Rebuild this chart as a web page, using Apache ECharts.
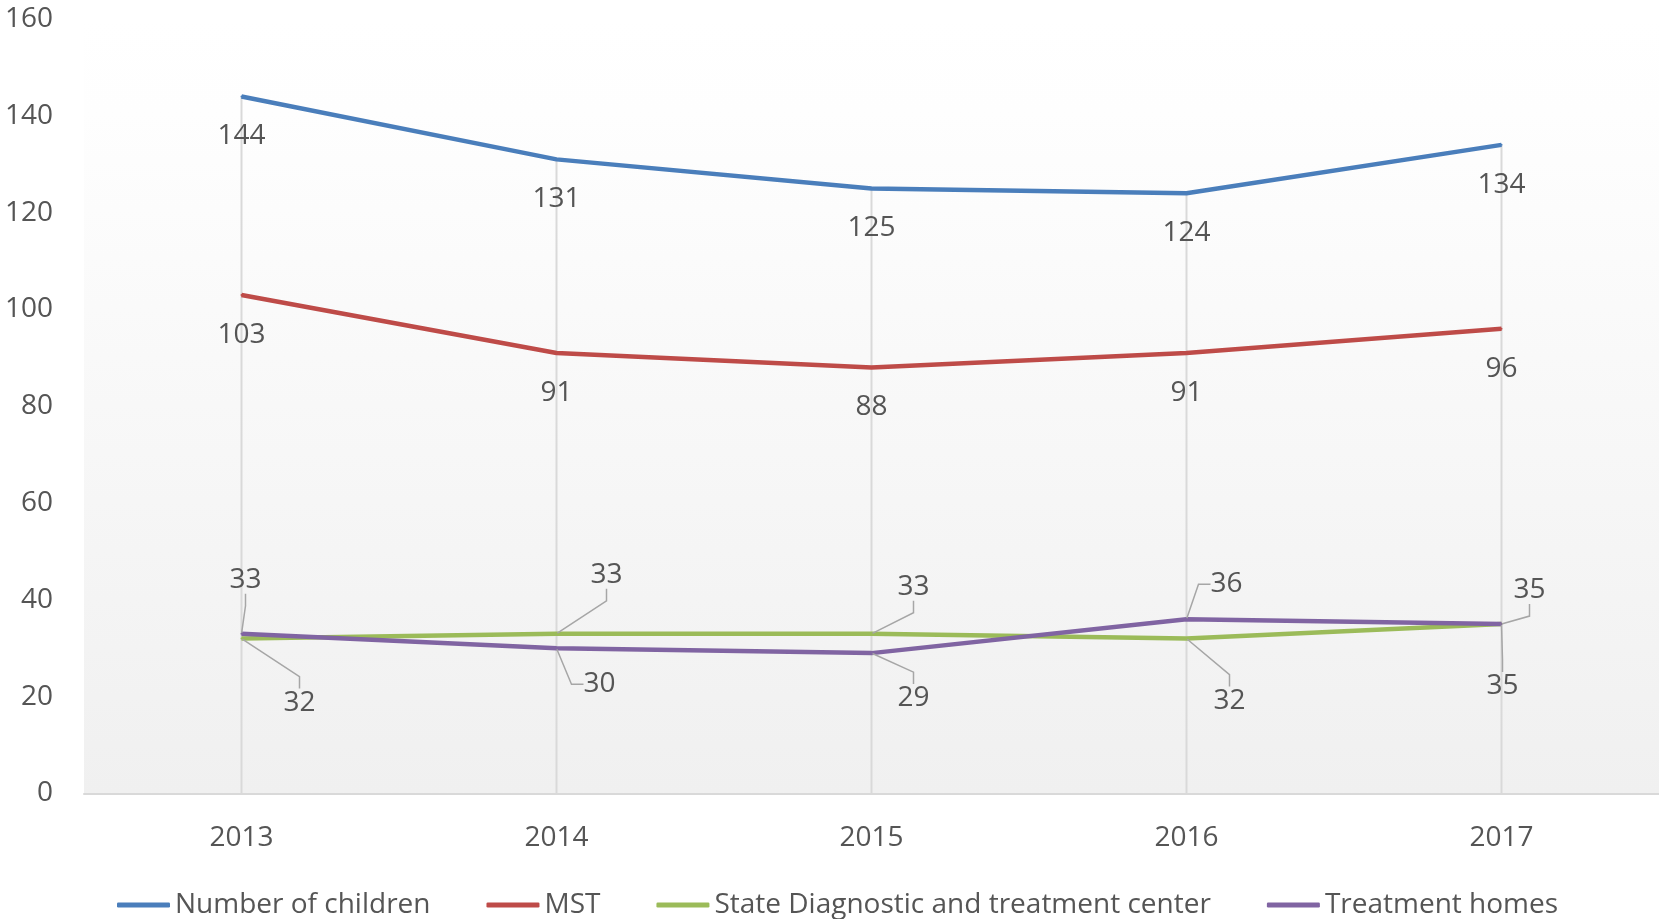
<!DOCTYPE html>
<html>
<head>
<meta charset="utf-8">
<script src="https://cdn.jsdelivr.net/npm/echarts@6/dist/echarts.min.js"></script>
<style>
  html, body { margin: 0; padding: 0; background: #fff; }
  #chart { width: 1659px; height: 919px; }
</style>
</head>
<body>
<div id="chart"></div>
<script>
const years = ["2013", "2014", "2015", "2016", "2017"];
const children = [144, 131, 125, 124, 134];
const mst = [103, 91, 88, 91, 96];
const stateCenter = [32, 33, 33, 32, 35];
const treatmentHomes = [33, 30, 29, 36, 35];
const yTicks = [0, 20, 40, 60, 80, 100, 120, 140, 160];

// drop lines go from the highest point in each year down to the axis
const dropTops = years.map((_, i) =>
  Math.max(children[i], mst[i], stateCenter[i], treatmentHomes[i])
);

// label offsets (px) for the two crowded lower series
const stateOffsets = [[58, 64], [50, -59], [42, -47], [43, 62], [1, 62]];
const homesOffsets = [[4, -54], [43, 36], [42, 45], [40, -35], [28, -34]];

const textColor = "#555555";
const font = "Open Sans";

const chart = echarts.init(document.getElementById("chart"));

const leaderSeries = (name, data, color, offsets) => ({
  name,
  type: "line",
  data,
  symbol: "circle",
  symbolSize: 2,
  lineStyle: { width: 4.5, color },
  itemStyle: { color },
  label: {
    show: true,
    position: "inside",
    fontSize: 28,
    fontFamily: font,
    color: textColor,
  },
  labelLayout: (p) => ({ dx: offsets[p.dataIndex][0], dy: offsets[p.dataIndex][1] }),
  labelLine: {
    show: true,
    length2: 12,
    lineStyle: { color: "#a6a6a6", width: 1.5 },
  },
  z: 3,
});

const plainSeries = (name, data, color) => ({
  name,
  type: "line",
  data,
  symbol: "circle",
  symbolSize: 2,
  lineStyle: { width: 4.5, color },
  itemStyle: { color },
  label: {
    show: true,
    position: "bottom",
    distance: 25,
    fontSize: 28,
    fontFamily: font,
    color: textColor,
  },
  z: 3,
});

const option = {
  animation: false,
  backgroundColor: "#ffffff",
  grid: {
    left: 84,
    right: -2,
    top: 19,
    bottom: 919 - 793.5,
    show: true,
    borderWidth: 0,
    backgroundColor: new echarts.graphic.LinearGradient(0, 0, 0, 1, [
      { offset: 0, color: "#ffffff" },
      { offset: 0.12, color: "#fefefe" },
      { offset: 1, color: "#f0f0f0" },
    ]),
  },
  legend: {
    data: ["Number of children", "MST", "State Diagnostic and treatment center", "Treatment homes"],
    left: 117,
    top: 891,
    padding: 0,
    icon: "roundRect",
    itemWidth: 53,
    itemHeight: 5,
    itemGap: 56,
    textStyle: { fontSize: 28, fontFamily: font, color: textColor },
  },
  xAxis: {
    type: "category",
    data: years,
    axisLine: { lineStyle: { color: "#d9d9d9", width: 2 } },
    axisTick: { show: false },
    axisLabel: { fontSize: 28, fontFamily: font, color: textColor, margin: 31 },
    splitLine: { show: false },
  },
  yAxis: {
    type: "value",
    min: yTicks[0],
    max: yTicks[yTicks.length - 1],
    interval: 20,
    axisLine: { show: false },
    axisTick: { show: false },
    axisLabel: { fontSize: 28, fontFamily: font, color: textColor, margin: 31 },
    splitLine: { show: false },
  },
  series: [
    {
      name: "drop",
      type: "bar",
      data: dropTops,
      barWidth: 2,
      itemStyle: { color: "#d9d9d9" },
      silent: true,
      z: 1,
    },
    plainSeries("Number of children", children, "#4a7ebb"),
    plainSeries("MST", mst, "#be4b48"),
    leaderSeries("State Diagnostic and treatment center", stateCenter, "#9bbb59", stateOffsets),
    leaderSeries("Treatment homes", treatmentHomes, "#8064a2", homesOffsets),
  ],
};

chart.setOption(option);
</script>
</body>
</html>
